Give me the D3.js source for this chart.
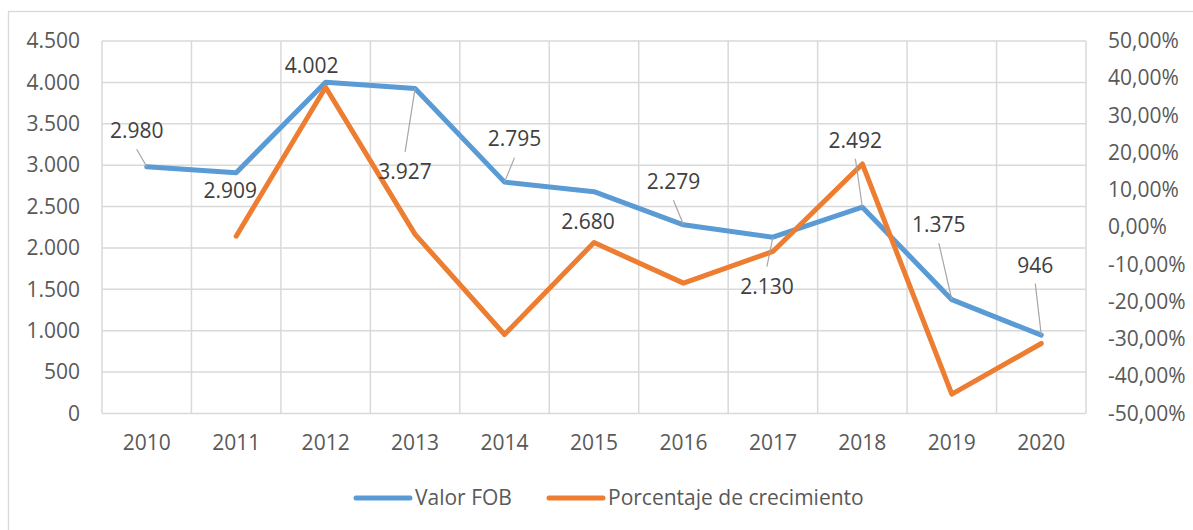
<!DOCTYPE html>
<html>
<head>
<meta charset="utf-8">
<script src="https://cdn.jsdelivr.net/npm/d3@7"></script>
<style>
  body { margin: 0; background: #fff; }
  text { font-family: "Open Sans", sans-serif; }
</style>
</head>
<body>
<svg id="chart" width="1193" height="530"></svg>
<script>
// ---- data ----
const years = ["2010", "2011", "2012", "2013", "2014", "2015", "2016", "2017", "2018", "2019", "2020"];
const valorFOB = [2980, 2909, 4002, 3927, 2795, 2680, 2279, 2130, 2492, 1375, 946];
const crecimiento = [null, -0.024, 0.376, -0.019, -0.288, -0.041, -0.150, -0.065, 0.170, -0.448, -0.312];
const leftTicks = [0, 500, 1000, 1500, 2000, 2500, 3000, 3500, 4000, 4500];
const rightTicks = [-0.5, -0.4, -0.3, -0.2, -0.1, 0, 0.1, 0.2, 0.3, 0.4, 0.5];
const seriesNames = ["Valor FOB", "Porcentaje de crecimiento"];

// label placement (offset of label centre from its point), as Excel put them
const labelDx = [-10, -6, -14, -10, 10, -6, -10, -6, -7, -13, -6];
const labelDy = [-36, 18, -17, 83, -43, 30, -43, 49, -67, -75, -70];

const blue = "#5B9BD5", orange = "#ED7D31", grid = "#D9D9D9";
const fontSize = 21;

const loc = d3.formatLocale({decimal: ",", thousands: ".", grouping: [3], currency: ["", ""], minus: "-"});
const fmtNum = loc.format(",");
const fmtPct = loc.format(".2%");

const plot = {left: 102, right: 1086, top: 41, bottom: 413.5};

const svg = d3.select("#chart");

// outer chart border
svg.append("rect")
    .attr("x", 8.5).attr("y", 11.5)
    .attr("width", 1200).attr("height", 540)
    .attr("fill", "none").attr("stroke", grid).attr("stroke-width", 1.3);

const x = d3.scaleBand().domain(years).range([plot.left, plot.right]);
const yL = d3.scaleLinear().domain([0, 4500]).range([plot.bottom, plot.top]);
const yR = d3.scaleLinear().domain([-0.5, 0.5]).range([plot.bottom, plot.top]);

// gridlines
const g = svg.append("g");
g.selectAll("line.h").data(leftTicks).join("line")
    .attr("x1", plot.left).attr("x2", plot.right)
    .attr("y1", d => yL(d)).attr("y2", d => yL(d))
    .attr("stroke", grid).attr("stroke-width", 1.5);
const bounds = years.map(d => x(d)).concat([plot.right]);
g.selectAll("line.v").data(bounds).join("line")
    .attr("x1", d => d).attr("x2", d => d)
    .attr("y1", plot.top).attr("y2", plot.bottom)
    .attr("stroke", grid).attr("stroke-width", 1.5);

// axes (d3 axes, domain line and ticks hidden)
const axL = svg.append("g").attr("transform", `translate(${plot.left},0)`)
    .call(d3.axisLeft(yL).tickValues(leftTicks).tickFormat(fmtNum).tickSize(0).tickPadding(22));
const axR = svg.append("g").attr("transform", `translate(${plot.right},0)`)
    .call(d3.axisRight(yR).tickValues(rightTicks).tickFormat(fmtPct).tickSize(0).tickPadding(22));
const axB = svg.append("g").attr("transform", `translate(0,${plot.bottom})`)
    .call(d3.axisBottom(x).tickSize(0).tickPadding(22));
[axL, axR, axB].forEach(a => {
    a.select(".domain").remove();
    a.selectAll("text").attr("font-family", "Open Sans, sans-serif")
        .attr("font-size", fontSize).attr("fill", "#595959");
});

// lines
const lineFOB = d3.line().x((d, i) => x(years[i]) + x.bandwidth() / 2).y(d => yL(d));
const linePct = d3.line().defined(d => d !== null)
    .x((d, i) => x(years[i]) + x.bandwidth() / 2).y(d => yR(d));

svg.append("path").datum(valorFOB).attr("d", lineFOB)
    .attr("fill", "none").attr("stroke", blue).attr("stroke-width", 5)
    .attr("stroke-linejoin", "round").attr("stroke-linecap", "round");
svg.append("path").datum(crecimiento).attr("d", linePct)
    .attr("fill", "none").attr("stroke", orange).attr("stroke-width", 5)
    .attr("stroke-linejoin", "round").attr("stroke-linecap", "round");

// data labels with leader lines
const lab = svg.append("g");
valorFOB.forEach((v, i) => {
    const px = x(years[i]) + x.bandwidth() / 2, py = yL(v);
    const cx = px + labelDx[i], cy = py + labelDy[i];
    if (Math.abs(labelDy[i]) > 33) {
        const sy = cy + (labelDy[i] < 0 ? 18.5 : -19.5);
        lab.append("line")
            .attr("x1", cx).attr("y1", sy).attr("x2", px).attr("y2", py)
            .attr("stroke", "#A6A6A6").attr("stroke-width", 1.2);
    }
    lab.append("text")
        .attr("x", cx).attr("y", cy).attr("dy", "0.35em")
        .attr("text-anchor", "middle")
        .attr("font-size", fontSize).attr("fill", "#404040")
        .text(fmtNum(v));
});

// legend
const legend = svg.append("g");
const legItems = [
    {name: seriesNames[0], color: blue, x0: 356},
    {name: seriesNames[1], color: orange, x0: 549}
];
legItems.forEach(it => {
    legend.append("line")
        .attr("x1", it.x0).attr("x2", it.x0 + 54)
        .attr("y1", 498).attr("y2", 498)
        .attr("stroke", it.color).attr("stroke-width", 5).attr("stroke-linecap", "round");
    legend.append("text")
        .attr("x", it.x0 + 59).attr("y", 498).attr("dy", "0.35em")
        .attr("font-size", fontSize).attr("fill", "#595959")
        .text(it.name);
});
</script>
</body>
</html>
